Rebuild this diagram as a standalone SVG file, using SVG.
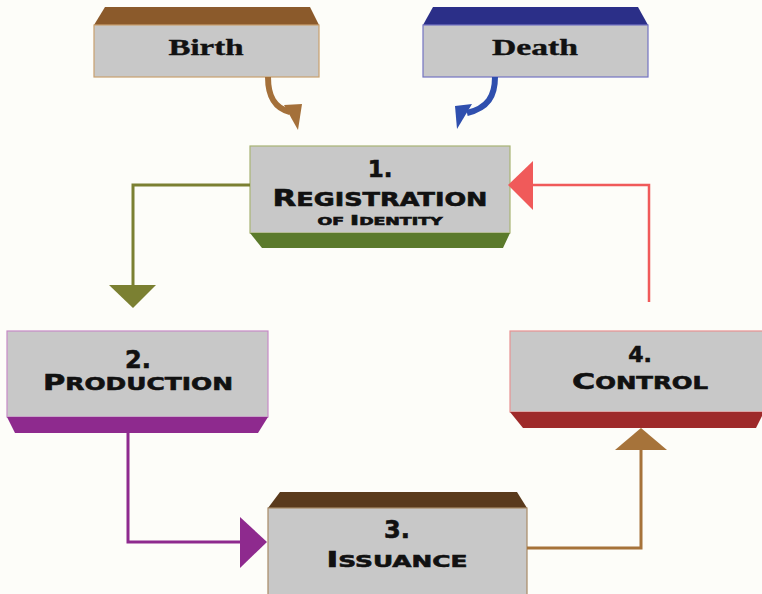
<svg xmlns="http://www.w3.org/2000/svg" width="762" height="594" viewBox="0 0 762 594">
<style>
.box{fill:#c8c8c8;stroke-width:1.2}
.lbl{font-family:"DejaVu Sans","Verdana",sans-serif;font-weight:bold;fill:#111;stroke:#111;stroke-width:0.6;text-anchor:middle}
.ser{font-family:"Liberation Serif","Times New Roman",serif;font-weight:bold;fill:#111;stroke:#111;stroke-width:0.4;text-anchor:middle}
.conn{fill:none}
</style>
<rect x="0" y="0" width="762" height="594" fill="#fdfdf9"/>

<g id="birth">
<polygon points="105,7 310,7 319,25 94,25" fill="#8b5a2b"/>
<rect class="box" x="94" y="25" width="225" height="52" stroke="#c9a06e"/>
<text class="ser" x="206" y="55" font-size="24" textLength="75" lengthAdjust="spacingAndGlyphs">Birth</text>
</g>

<g id="death">
<polygon points="433,7 638,7 648,25 423,25" fill="#2b2f88"/>
<rect class="box" x="423" y="25" width="225" height="52" stroke="#7474c2"/>
<text class="ser" x="535" y="55" font-size="24" textLength="86" lengthAdjust="spacingAndGlyphs">Death</text>
</g>

<g id="registration">
<rect class="box" x="250" y="146" width="260" height="87" stroke="#a8b474"/>
<polygon points="250,233 510,233 503,248 262,248" fill="#5b7a2c"/>
<text class="lbl" x="380" y="177" font-size="23">1.</text>
<text class="lbl" x="380" y="206" textLength="215" lengthAdjust="spacingAndGlyphs"><tspan font-size="23">R</tspan><tspan font-size="19">EGISTRATION</tspan></text>
<text class="lbl" x="380" y="225" textLength="125" lengthAdjust="spacingAndGlyphs"><tspan font-size="10">OF </tspan><tspan font-size="14">I</tspan><tspan font-size="10">DENTITY</tspan></text>
</g>

<g id="production">
<rect class="box" x="7" y="331" width="261" height="86" stroke="#c68ac6"/>
<polygon points="7,417 268,417 258,433 15,433" fill="#8e2a8e"/>
<text class="lbl" x="138" y="368" font-size="24">2.</text>
<text class="lbl" x="138" y="390" textLength="190" lengthAdjust="spacingAndGlyphs"><tspan font-size="22">P</tspan><tspan font-size="18">RODUCTION</tspan></text>
</g>

<g id="issuance">
<polygon points="280,492 517,492 527,508 268,508" fill="#5a3a1c"/>
<rect class="box" x="268" y="508" width="259" height="90" stroke="#a88a66"/>
<text class="lbl" x="397" y="538" font-size="24">3.</text>
<text class="lbl" x="397" y="567" textLength="141" lengthAdjust="spacingAndGlyphs"><tspan font-size="21">I</tspan><tspan font-size="16.5">SSUANCE</tspan></text>
</g>

<g id="control">
<rect class="box" x="510" y="331" width="254" height="81" stroke="#e89292"/>
<polygon points="510,412 764,412 756,428 523,428" fill="#9e2a2a"/>
<text class="lbl" x="640" y="362" font-size="22">4.</text>
<text class="lbl" x="640" y="389" textLength="136" lengthAdjust="spacingAndGlyphs"><tspan font-size="22">C</tspan><tspan font-size="17">ONTROL</tspan></text>
</g>

<g id="connectors">
<path class="conn" d="M268,77 C268,96 274,108 290,112" stroke="#a4703a" stroke-width="6"/>
<polygon points="284,105 302,104 298,130" fill="#a4703a"/>
<path class="conn" d="M495,77 C495,96 488,108 467,113" stroke="#2f4fae" stroke-width="6"/>
<polygon points="472,104 455,106 457,129" fill="#2f4fae"/>

<path class="conn" d="M250,185 H133 V287" stroke="#7b8032" stroke-width="3"/>
<polygon points="109,285 156,285 133,308" fill="#7b8032"/>

<path class="conn" d="M128,433 V542 H242" stroke="#8e2a8e" stroke-width="3"/>
<polygon points="240,517 240,568 267,542" fill="#8e2a8e"/>

<path class="conn" d="M527,548 H641 V448" stroke="#a6733a" stroke-width="3"/>
<polygon points="615,450 667,450 641,428" fill="#a6733a"/>

<path class="conn" d="M649,302 V185 H531" stroke="#f05a5a" stroke-width="2.5"/>
<polygon points="533,161 533,210 508,185" fill="#f05a5a"/>
</g>
</svg>
